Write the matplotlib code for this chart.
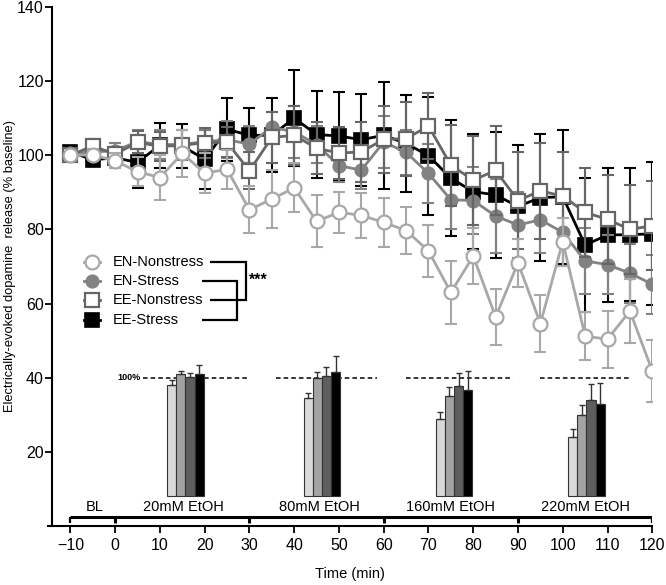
import matplotlib
matplotlib.use("Agg")
import matplotlib.pyplot as plt
import numpy as np

plt.rcParams['font.family'] = ['Liberation Sans', 'DejaVu Sans']

# ---------------- data ----------------
time_min = [-10, -5, 0, 5, 10, 15, 20, 25, 30, 35, 40, 45, 50, 55, 60,
            65, 70, 75, 80, 85, 90, 95, 100, 105, 110, 115, 120]

en_nonstress_mean = [100.0, 100.1, 98.5, 95.6, 94.0, 100.5, 95.2, 96.2, 85.3, 88.2,
                     91.2, 82.2, 84.6, 83.8, 81.9, 79.7, 74.2, 63.0, 72.8, 56.4,
                     71.0, 54.6, 76.7, 51.2, 50.4, 58.0, 41.8]
en_nonstress_sem = [1.0, 1.5, 2.0, 4.0, 6.0, 6.3, 5.5, 5.3, 6.3, 7.9,
                    6.6, 7.0, 5.6, 6.0, 6.7, 6.4, 7.0, 8.4, 7.5, 7.5,
                    6.5, 7.6, 6.5, 6.4, 7.7, 8.7, 8.3]

en_stress_mean = [100.5, 100.9, 101.2, 103.7, 102.9, 102.9, 103.7, 104.2, 103.0, 107.6,
                  106.3, 102.9, 97.2, 96.0, 103.6, 100.8, 95.1, 88.0, 87.8, 83.6,
                  81.2, 82.6, 79.2, 71.5, 70.5, 68.2, 65.2]
en_stress_sem = [1.0, 1.5, 2.0, 3.0, 4.0, 4.0, 3.0, 5.0, 5.0, 4.0,
                 7.0, 5.0, 4.5, 5.0, 7.0, 6.0, 8.0, 8.0, 9.0, 10.0,
                 9.0, 9.0, 9.0, 9.0, 8.0, 8.0, 8.0]

ee_nonstress_mean = [100.0, 102.5, 100.3, 103.5, 102.4, 102.7, 103.4, 103.5, 95.8, 104.8,
                     105.4, 101.9, 100.6, 100.9, 104.3, 104.5, 107.9, 97.3, 93.3, 95.9,
                     87.8, 90.4, 89.0, 84.6, 82.7, 80.0, 81.0]
ee_nonstress_sem = [1.5, 2.0, 2.0, 3.0, 4.0, 4.0, 4.0, 4.0, 5.0, 7.0,
                    8.0, 7.0, 7.0, 8.0, 9.0, 10.0, 9.0, 11.0, 12.0, 12.0,
                    13.0, 13.0, 12.0, 12.0, 12.0, 12.0, 12.0]

ee_stress_mean = [100.9, 98.8, 99.3, 98.1, 102.7, 102.5, 98.9, 107.0, 105.4, 105.4,
                  110.0, 105.6, 105.2, 104.2, 105.4, 103.2, 99.9, 93.8, 90.2, 89.3,
                  86.2, 88.6, 88.8, 75.8, 78.5, 78.6, 78.8]
ee_stress_sem = [1.5, 1.5, 2.0, 7.0, 6.0, 6.0, 8.0, 8.5, 7.4, 10.0,
                 12.9, 11.8, 11.9, 12.4, 14.4, 13.1, 15.9, 15.6, 15.6, 17.0,
                 16.6, 17.2, 18.0, 18.0, 18.0, 18.0, 19.3]

series_names = ["EN-Nonstress", "EN-Stress", "EE-Nonstress", "EE-Stress"]

# inset: % of baseline per ethanol concentration
conc_labels = ["20mM EtOH", "80mM EtOH", "160mM EtOH", "220mM EtOH"]
inset_en_nonstress = [94.1, 82.8, 65.3, 50.3]
inset_en_nonstress_err = [3.8, 4.4, 5.6, 6.3]
inset_en_stress = [103.4, 99.7, 84.7, 68.8]
inset_en_stress_err = [2.5, 5.0, 7.2, 8.1]
inset_ee_nonstress = [100.6, 101.6, 93.1, 81.6]
inset_ee_nonstress_err = [3.4, 7.5, 10.9, 12.8]
inset_ee_stress = [103.4, 104.7, 89.4, 77.8]
inset_ee_stress_err = [7.2, 13.4, 15.9, 17.8]

phase_labels = ["BL"] + conc_labels
phase_edges = [-10, 0, 30, 60, 90, 120]

# ---------------- figure ----------------
fig = plt.figure(figsize=(6.66, 5.85), dpi=100)
ax = fig.add_axes([48 / 666, 1 - 526 / 585, (652.3 - 48) / 666, (526 - 7) / 585])
ax.set_xlim(-15, 120)
ax.set_ylim(0, 140)

styles = [
    dict(color='#a8a8a8', marker='o', mfc='white', ms=10, mew=1.6),
    dict(color='#828282', marker='o', mfc='#828282', ms=9, mew=1.2),
    dict(color='#666666', marker='s', mfc='white', ms=9.5, mew=1.6),
    dict(color='#000000', marker='s', mfc='#000000', ms=9.5, mew=1.2),
]
means = [en_nonstress_mean, en_stress_mean, ee_nonstress_mean, ee_stress_mean]
sems = [en_nonstress_sem, en_stress_sem, ee_nonstress_sem, ee_stress_sem]
zorders = [8, 5, 6, 4]

t = np.array(time_min)
for m, s, st, z in zip(means, sems, styles, zorders):
    ax.errorbar(t, m, yerr=s, fmt='none', ecolor=st['color'], elinewidth=1.5,
                capsize=4.5, capthick=1.5, zorder=z - 0.5)
    ax.plot(t, m, color=st['color'], lw=2, marker=st['marker'], ms=st['ms'],
            mfc=st['mfc'], mec=st['color'], mew=st['mew'], zorder=z)

# ---- legend (manual) ----
leg_y = [71.3, 66.1, 60.9, 55.6]
for name, st, y in zip(series_names, styles, leg_y):
    ax.plot([-6.9, -3.3], [y, y], color=st['color'], lw=2, zorder=9)
    ax.plot([-5.1], [y], color=st['color'], marker=st['marker'], ms=st['ms'],
            mfc=st['mfc'], mec=st['color'], mew=st['mew'], zorder=9)
    ax.text(-0.6, y, name, fontsize=10.5, va='center', ha='left')

# significance brackets
br_kw = dict(color='black', lw=1.6, solid_capstyle='butt', solid_joinstyle='miter')
ax.plot([21.2, 29.3, 29.3, 21.2], [leg_y[0], leg_y[0], leg_y[2], leg_y[2]], **br_kw)
ax.plot([19.3, 27.2, 27.2, 19.3], [leg_y[1], leg_y[1], leg_y[3], leg_y[3]], **br_kw)
ax.text(30.0, 66.4, "***", fontsize=11.5, fontweight='bold', va='center', ha='left')

# ---- inset bars ----
inset_base = 8.0
inset_scale = 32.0 / 100.0
group_centers = [15.7, 46.2, 75.7, 105.3]
bar_w = 2.03
bar_colors = ['#d9d9d9', '#a3a3a3', '#5e5e5e', '#000000']
inset_vals = [inset_en_nonstress, inset_en_stress, inset_ee_nonstress, inset_ee_stress]
inset_errs = [inset_en_nonstress_err, inset_en_stress_err,
              inset_ee_nonstress_err, inset_ee_stress_err]
for k, (vals, errs, col) in enumerate(zip(inset_vals, inset_errs, bar_colors)):
    xs = np.array(group_centers) + (k - 1.5) * bar_w
    h = np.array(vals) * inset_scale
    e = np.array(errs) * inset_scale
    ax.bar(xs, h, width=bar_w, bottom=inset_base, color=col, edgecolor='#333333',
           linewidth=0.8, zorder=3)
    ax.errorbar(xs, inset_base + h, yerr=[np.zeros_like(e), e], fmt='none',
                ecolor='#333333', elinewidth=1, capsize=2.2, capthick=1, zorder=3)

ref_y = inset_base + 100 * inset_scale
dash_spans = [(6.2, 29.4), (36.0, 58.6), (64.9, 88.8), (94.9, 115.3)]
for a, b in dash_spans:
    ax.plot([a, b], [ref_y, ref_y], color='black', lw=1.1, dashes=(3, 2), zorder=2)
ax.text(5.6, ref_y, "100%", fontsize=6.5, fontweight='bold', ha='right', va='center')

# ---- phase bracket ----
ybr = 2.45
ax.plot([phase_edges[0], phase_edges[-1]], [ybr, ybr], color='black', lw=2.2,
        solid_capstyle='butt', zorder=3)
for xe in phase_edges:
    ax.plot([xe, xe], [0.8, ybr], color='black', lw=2.2 if xe not in (-10, 120) else 1.6,
            solid_capstyle='butt', zorder=3)
label_x = [-4.5, 15.2, 45.7, 74.9, 105.0]
for lab, lx in zip(phase_labels, label_x):
    ax.text(lx, 5.0, lab, fontsize=10.5, ha='center', va='center')

# ---- axes styling ----
for sp in ['top', 'right']:
    ax.spines[sp].set_visible(False)
ax.spines['left'].set_position(('data', -14.1))
ax.spines['left'].set_bounds(0, 140)
for sp in ['left', 'bottom']:
    ax.spines[sp].set_linewidth(1.5)
ax.set_xticks(list(range(-10, 121, 10)))
ax.set_yticks(list(range(20, 141, 20)))
ax.tick_params(direction='out', length=5, width=1.3, labelsize=11.5)
ax.tick_params(axis='y', pad=0.8)
ax.set_xlabel("Time (min)", fontsize=10.5, labelpad=10)
fig.text(10 / 666, 1 - 266 / 585, "Electrically-evoked dopamine  release (% baseline)",
         rotation=90, fontsize=9.3, ha='center', va='center')

fig.savefig("out.png", dpi=100)
